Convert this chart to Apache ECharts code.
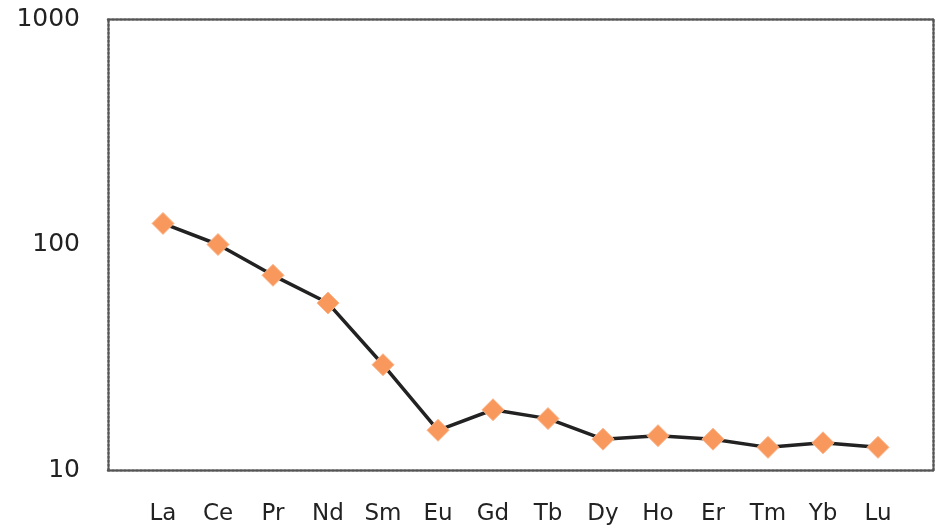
<!DOCTYPE html>
<html>
<head>
<meta charset="utf-8">
<script src="https://cdn.jsdelivr.net/npm/echarts@6/dist/echarts.min.js"></script>
<style>html,body{margin:0;padding:0;background:#fff;}#c{width:939px;height:530px;}</style>
</head>
<body>
<div id="c"></div>
<script>
var categories = ['', 'La', 'Ce', 'Pr', 'Nd', 'Sm', 'Eu', 'Gd', 'Tb', 'Dy', 'Ho', 'Er', 'Tm', 'Yb', 'Lu', ''];
var values = [null, 124, 100, 73, 55, 29.3, 15.0, 18.5, 16.9, 13.7, 14.2, 13.7, 12.6, 13.2, 12.6, null];
var yTicks = [10, 100, 1000];

var chart = echarts.init(document.getElementById('c'));
var border = { show: true, lineStyle: { color: '#555', width: 2.5, type: [2, 2] } };
chart.setOption({
  animation: false,
  backgroundColor: '#fff',
  grid: { left: 108, right: 6, top: 19, bottom: 60 },
  xAxis: [{
    type: 'category',
    data: categories,
    boundaryGap: false,
    position: 'bottom',
    axisLine: border,
    axisTick: { show: false },
    axisLabel: { color: '#222', fontSize: 23, fontFamily: 'DejaVu Sans', margin: 33, interval: 0 },
    splitLine: { show: false }
  }, {
    type: 'category',
    data: categories,
    boundaryGap: false,
    position: 'top',
    axisLine: border,
    axisTick: { show: false },
    axisLabel: { show: false }
  }],
  yAxis: [{
    type: 'log',
    logBase: 10,
    min: yTicks[0],
    max: yTicks[yTicks.length - 1],
    position: 'left',
    axisLine: border,
    axisTick: { show: false },
    splitLine: { show: false },
    axisLabel: {
      color: '#222', fontSize: 25, fontFamily: 'DejaVu Sans', margin: 28,
      formatter: function (v) { return yTicks.indexOf(Math.round(v)) >= 0 ? String(Math.round(v)) : ''; }
    }
  }, {
    type: 'log',
    logBase: 10,
    min: yTicks[0],
    max: yTicks[yTicks.length - 1],
    position: 'right',
    axisLine: border,
    axisTick: { show: false },
    splitLine: { show: false },
    axisLabel: { show: false }
  }],
  series: [{
    type: 'line',
    data: values,
    connectNulls: false,
    lineStyle: { color: '#222', width: 3.5 },
    symbol: 'diamond',
    symbolSize: 22,
    itemStyle: { color: '#f8985c', borderColor: '#fbb58a', borderWidth: 1 },
    z: 5
  }]
});
</script>
</body>
</html>
